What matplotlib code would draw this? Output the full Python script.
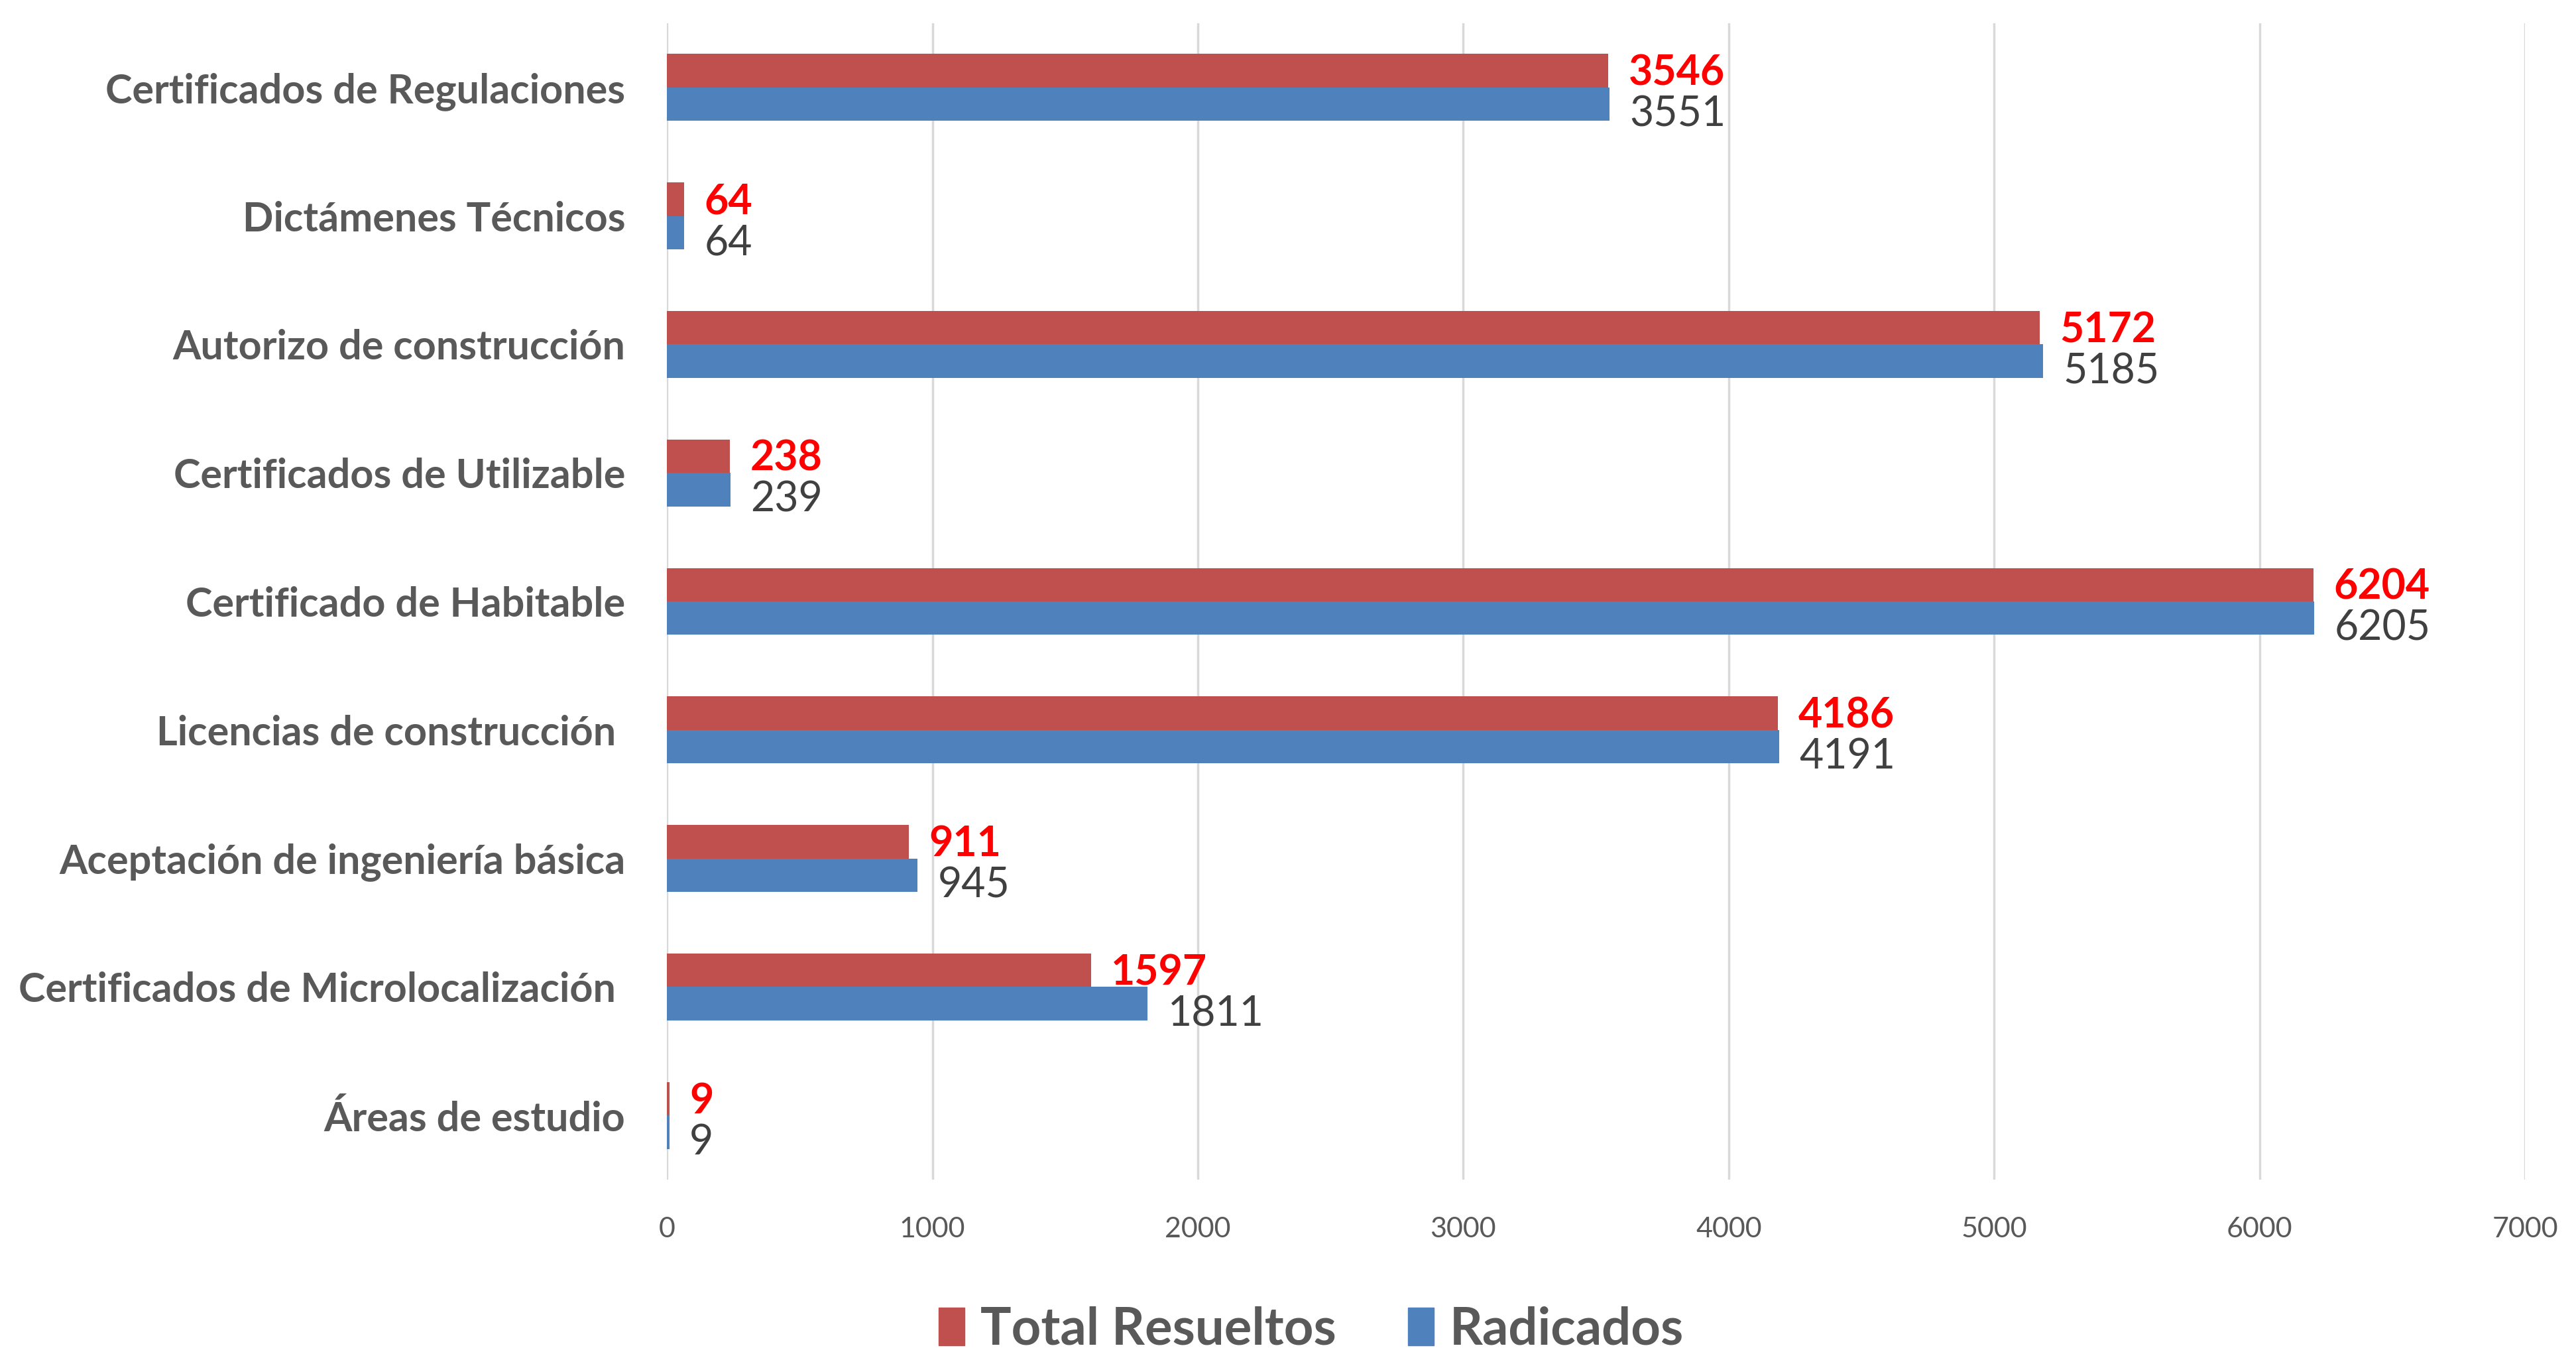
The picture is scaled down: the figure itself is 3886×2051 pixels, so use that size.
import matplotlib.pyplot as plt
from matplotlib.patches import Patch

plt.rcParams['font.family'] = ['Lato', 'DejaVu Sans']

categorias = [
    "Certificados de Regulaciones",
    "Dictámenes Técnicos",
    "Autorizo de construcción",
    "Certificados de Utilizable",
    "Certificado de Habitable",
    "Licencias de construcción ",
    "Aceptación de ingeniería básica",
    "Certificados de Microlocalización ",
    "Áreas de estudio",
]
total_resueltos = [3546, 64, 5172, 238, 6204, 4186, 911, 1597, 9]
radicados = [3551, 64, 5185, 239, 6205, 4191, 945, 1811, 9]
x_ticks = [0, 1000, 2000, 3000, 4000, 5000, 6000, 7000]

color_rojo = '#C0504D'
color_azul = '#4F81BD'
gris = '#595959'

fig = plt.figure(figsize=(38.86, 20.51), dpi=100)
ax = fig.add_axes([0.2589, 0.1326, 0.7213, 0.8504])

pos = list(range(len(categorias)))
h = 0.26
ax.barh([p - h / 2 for p in pos], total_resueltos, height=h, color=color_rojo, zorder=3)
ax.barh([p + h / 2 for p in pos], radicados, height=h, color=color_azul, zorder=3)

# etiquetas de valores
for p, v in zip(pos, total_resueltos):
    ax.annotate(str(v), (v, p - h / 2 + 0.02), xytext=(22, 0), textcoords='offset points',
                ha='left', va='center', color='#FF0000', fontsize=45, fontweight='bold')
for p, v in zip(pos, radicados):
    ax.annotate(str(v), (v, p + h / 2 + 0.08), xytext=(22, 0), textcoords='offset points',
                ha='left', va='center', color='#404040', fontsize=45)

ax.set_ylim(len(categorias) - 0.5, -0.5)
ax.set_xlim(0, 7000)
ax.set_yticks(pos)
ax.set_yticklabels(categorias, fontsize=44, fontweight='bold', color=gris)
ax.set_xticks(x_ticks)
ax.set_xticklabels([str(t) for t in x_ticks], fontsize=31, color=gris)
ax.tick_params(axis='y', length=0, pad=45)
ax.tick_params(axis='x', length=0, pad=40)

ax.grid(axis='x', color='#D9D9D9', linewidth=2.5, zorder=0)
for s in ax.spines.values():
    s.set_visible(False)

handles = [Patch(color=color_rojo, label='Total Resueltos'),
           Patch(color=color_azul, label='Radicados')]
fig.legend(handles=handles, loc='center', bbox_to_anchor=(0.509, 0.022), ncol=2,
           frameon=False, prop={'size': 56, 'weight': 'bold'},
           handlelength=0.5, handleheight=0.75, handletextpad=0.3, columnspacing=1.4,
           labelcolor=gris, borderpad=0.2)

fig.savefig('out.png', dpi=100)
